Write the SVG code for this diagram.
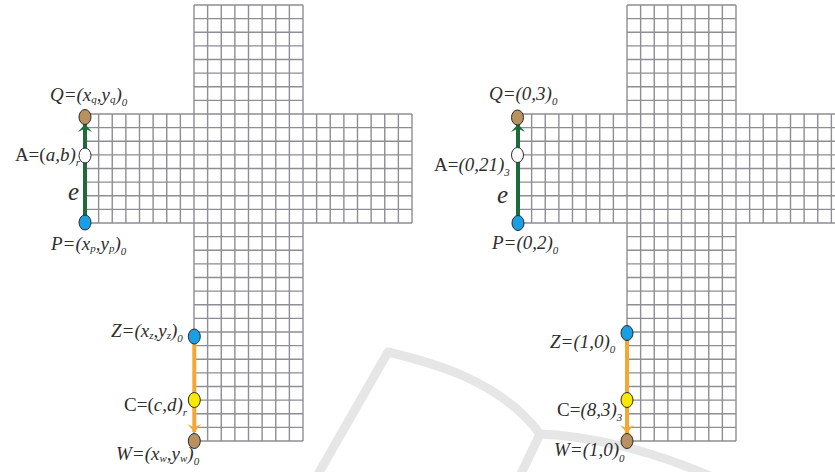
<svg xmlns="http://www.w3.org/2000/svg" xmlns:xlink="http://www.w3.org/1999/xlink" width="835" height="472" viewBox="0 0 835 472">
<style>
.grid{fill:none;stroke:#8e8e94;stroke-width:1.4}
.wm{fill:none;stroke:#e6e6e6;stroke-width:9;stroke-linecap:round;stroke-linejoin:round}
.t{font-family:"Liberation Serif","Times New Roman",serif;font-size:19px;font-style:italic;fill:#2e2e2e}
.n{font-style:normal}
.s{font-size:11px}
.e{font-family:"Liberation Serif","Times New Roman",serif;font-size:25px;font-style:italic;fill:#2e2e2e}
.node{stroke:#2a2a2a;stroke-width:1}
.brown{fill:#b8925e}
.white{fill:#ffffff}
.blue{fill:#1a9fe2}
.yellow{fill:#f7ea00}
.green{fill:none;stroke:#1d6a3a;stroke-width:4}
.orange{fill:none;stroke:#f5a733;stroke-width:4}
</style>
<defs>
<marker id="ag" viewBox="-9 -8 10 16" refX="0" refY="0" markerWidth="10" markerHeight="16" markerUnits="userSpaceOnUse" orient="auto">
<path d="M0,0 L-8,-7 L-4.5,0 L-8,7 Z" fill="#1d6a3a"/>
</marker>
<marker id="ao" viewBox="-9 -8 10 16" refX="0" refY="0" markerWidth="10" markerHeight="16" markerUnits="userSpaceOnUse" orient="auto">
<path d="M0,0 L-8,-7 L-4.5,0 L-8,7 Z" fill="#f5a733"/>
</marker>
<path id="grid" class="grid" d="M194 5H303M194 18.625H303M194 32.25H303M194 45.875H303M194 59.5H303M194 73.125H303M194 86.75H303M194 100.375H303
M85 114H412M85 127.625H412M85 141.25H412M85 154.875H412M85 168.5H412M85 182.125H412M85 195.75H412M85 209.375H412M85 223H412
M194 236.625H303M194 250.25H303M194 263.875H303M194 277.5H303M194 291.125H303M194 304.75H303M194 318.375H303M194 332H303M194 345.625H303M194 359.25H303M194 372.875H303M194 386.5H303M194 400.125H303M194 413.75H303M194 427.375H303M194 441H303
M85 114V223M98.625 114V223M112.25 114V223M125.875 114V223M139.5 114V223M153.125 114V223M166.75 114V223M180.375 114V223
M194 5V441M207.625 5V441M221.25 5V441M234.875 5V441M248.5 5V441M262.125 5V441M275.75 5V441M289.375 5V441M303 5V441
M316.625 114V223M330.25 114V223M343.875 114V223M357.5 114V223M371.125 114V223M384.75 114V223M398.375 114V223M412 114V223"/>
</defs>
<rect width="835" height="472" fill="#ffffff"/>
<g id="watermark">
<path class="wm" d="M317 476 L388 352 C430 362 500 380 540 434"/>
<path class="wm" d="M540 434 L520 476"/>
<path class="wm" d="M540 434 C590 436 650 450 710 476"/>
</g>
<g id="grids">
<use xlink:href="#grid" href="#grid"/>
<use xlink:href="#grid" href="#grid" x="433"/>
</g>
<g id="connectors">
<path class="green" d="M85 222 L85 124" marker-end="url(#ag)"/>
<path class="orange" d="M194.3 337 L194.3 432" marker-end="url(#ao)"/>
<path class="green" d="M518 223 L518 124" marker-end="url(#ag)"/>
<path class="orange" d="M627 333 L627 433" marker-end="url(#ao)"/>
<text class="e" x="68" y="200">e</text>
<text class="e" x="497" y="203">e</text>
</g>
<g id="L-Q"><ellipse class="node brown" cx="85" cy="117" rx="6" ry="7.5"/>
<text class="t" x="50" y="101">Q=(x<tspan class="s" dy="2">q</tspan><tspan dy="-2">,y</tspan><tspan class="s" dy="2">q</tspan><tspan dy="-2">)</tspan><tspan class="s" dy="5">0</tspan></text></g>
<g id="L-A"><ellipse class="node white" cx="85" cy="155.5" rx="6" ry="7.5"/>
<text class="t" x="80" y="161" text-anchor="end"><tspan class="n">A=(</tspan>a,b)<tspan class="s" dy="5">r</tspan></text></g>
<g id="L-P"><ellipse class="node blue" cx="85" cy="222.5" rx="6" ry="7.5"/>
<text class="t" x="51" y="250">P=(x<tspan class="s" dy="2">p</tspan><tspan dy="-2">,y</tspan><tspan class="s" dy="2">p</tspan><tspan dy="-2">)</tspan><tspan class="s" dy="5">0</tspan></text></g>
<g id="L-Z"><ellipse class="node blue" cx="194.3" cy="336.5" rx="6" ry="7.5"/>
<text class="t" x="111" y="337">Z=(x<tspan class="s" dy="2">z</tspan><tspan dy="-2">,y</tspan><tspan class="s" dy="2">z</tspan><tspan dy="-2">)</tspan><tspan class="s" dy="5">0</tspan></text></g>
<g id="L-C"><ellipse class="node yellow" cx="194.3" cy="400" rx="6" ry="7.5"/>
<text class="t" x="124" y="411"><tspan class="n">C=(</tspan>c,d)<tspan class="s" dy="5">r</tspan></text></g>
<g id="L-W"><ellipse class="node brown" cx="194.3" cy="441" rx="6" ry="7.5"/>
<text class="t" x="116" y="460">W=(x<tspan class="s" dy="2">w</tspan><tspan dy="-2">,y</tspan><tspan class="s" dy="2">w</tspan><tspan dy="-2">)</tspan><tspan class="s" dy="5">0</tspan></text></g>
<g id="R-Q"><ellipse class="node brown" cx="517.5" cy="117.5" rx="6" ry="7.5"/>
<text class="t" x="489" y="100">Q=(0,3)<tspan class="s" dy="5">0</tspan></text></g>
<g id="R-A"><ellipse class="node white" cx="517.5" cy="155" rx="6" ry="7.5"/>
<text class="t" x="434" y="171"><tspan class="n">A=</tspan>(0,21)<tspan class="s" dy="5">3</tspan></text></g>
<g id="R-P"><ellipse class="node blue" cx="518" cy="223" rx="6" ry="7.5"/>
<text class="t" x="492" y="249">P=(0,2)<tspan class="s" dy="5">0</tspan></text></g>
<g id="R-Z"><ellipse class="node blue" cx="627" cy="333" rx="6" ry="7.5"/>
<text class="t" x="550" y="348">Z=(1,0)<tspan class="s" dy="5">0</tspan></text></g>
<g id="R-C"><ellipse class="node yellow" cx="627" cy="400" rx="6" ry="7.5"/>
<text class="t" x="557" y="416"><tspan class="n">C=</tspan>(8,3)<tspan class="s" dy="5">3</tspan></text></g>
<g id="R-W"><ellipse class="node brown" cx="627" cy="441" rx="6" ry="7.5"/>
<text class="t" x="554" y="456">W=(1,0)<tspan class="s" dy="6">0</tspan></text></g>
</svg>
